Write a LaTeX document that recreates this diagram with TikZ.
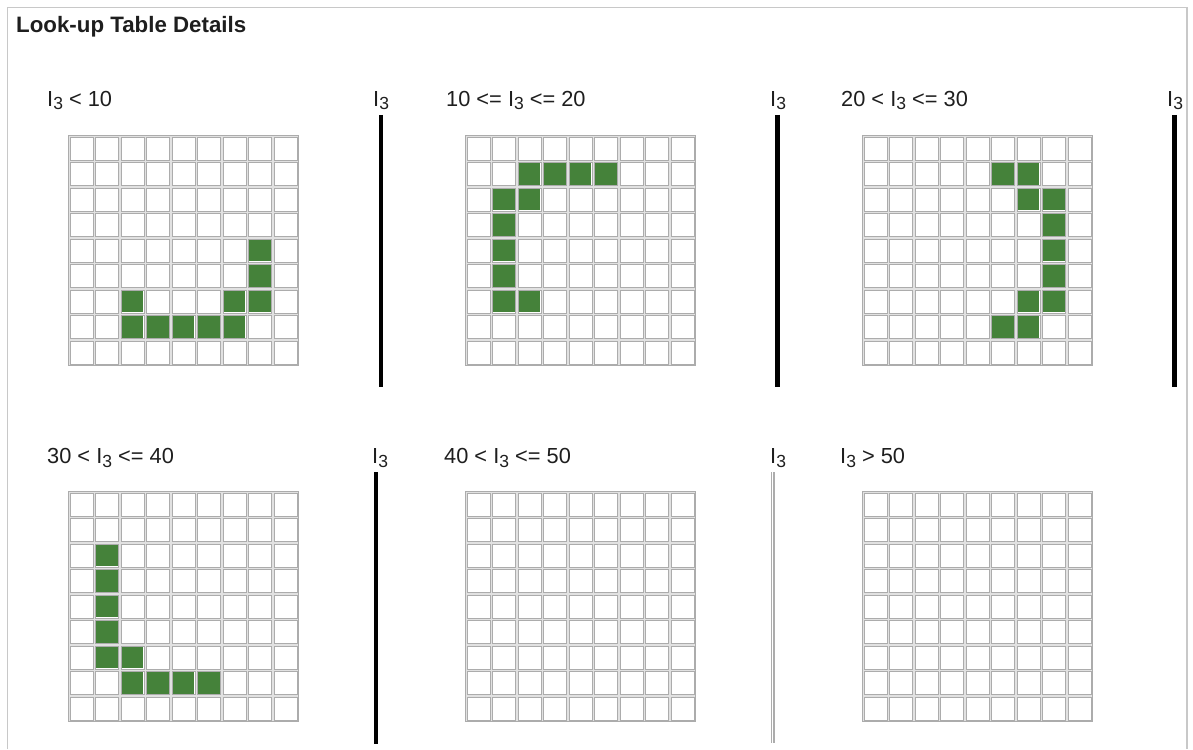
\documentclass[tikz,border=0pt]{standalone}
\usepackage{fontspec}
\setmainfont{Liberation Sans}
\definecolor{lutgreen}{RGB}{69,130,58}
\definecolor{lutgray}{RGB}{172,172,172}
\definecolor{lightgap}{RGB}{225,225,225}
\definecolor{framegray}{RGB}{200,200,200}
\definecolor{txt}{RGB}{30,30,30}
\newcommand\Ith{I\raisebox{-3.5pt}{\fontsize{17.5}{17.5}\selectfont 3}}
\tikzset{
  lbl/.style={anchor=base west, inner sep=0pt, text=txt, font=\fontsize{21.8}{24}\selectfont},
  ttl/.style={anchor=base west, inner sep=0pt, text=txt, font=\fontsize{22.3}{24}\selectfont\bfseries},
  tblborder/.style={draw=lutgray, line width=1pt},
  cellborder/.style={draw=lutgray, line width=1pt},
  bar/.style={draw=black, line width=4.5pt},
  gbar/.style={draw=lutgray, line width=1.2pt},
  frm/.style={draw=framegray, line width=1.2pt},
}
\newcommand\lutgrid[2]{%
  \fill[lightgap] (#1+1,#2+1) rectangle (#1+231,#2+231);
  \draw[tblborder] (#1+1,#2+1) rectangle (#1+231,#2+231);
  \foreach \r in {0,...,8} \foreach \c in {0,...,8}
    \draw[cellborder, fill=white] ({#1+3+25.5*\c},{#2+3+25.5*\r}) rectangle +(23,23);
}
\newcommand\lutfill[3]{%
  \foreach \r/\c in {#3}
    \fill[lutgreen] ({#1+3.6+25.5*\c},{#2+3.6+25.5*\r}) rectangle +(21.8,21.8);
}
\begin{document}
\begin{tikzpicture}[x=1pt,y=-1pt]
\useasboundingbox (0,0) rectangle (1193,749);
\draw[frm] (7.5,749) -- (7.5,7.5) -- (1187,7.5) -- (1187,749);
\node[ttl] (title) at (16,33) {Look-up Table Details};
% row 1 labels
\node[lbl] (l1) at (47,106.5) {\Ith{} < 10};
\node[lbl] (b1) at (373,106.5) {\Ith};
\node[lbl] (l2) at (446,106.5) {10 <= \Ith{} <= 20};
\node[lbl] (b2) at (770,106.5) {\Ith};
\node[lbl] (l3) at (841,106.5) {20 < \Ith{} <= 30};
\node[lbl] (b3) at (1167,106.5) {\Ith};
% row 2 labels
\node[lbl] (l4) at (47,463.5) {30 < \Ith{} <= 40};
\node[lbl] (b4) at (372,463.5) {\Ith};
\node[lbl] (l5) at (444,463.5) {40 < \Ith{} <= 50};
\node[lbl] (b5) at (770,463.5) {\Ith};
\node[lbl] (l6) at (840,463.5) {\Ith{} > 50};
% bars
\draw[bar] (381,115) -- (381,387);
\draw[bar] (777.5,115) -- (777.5,387);
\draw[bar] (1174.5,115) -- (1174.5,387);
\draw[bar] (376,472) -- (376,744);
\draw[gbar] (771.5,472) -- (771.5,743);
\draw[gbar] (774,472) -- (774,743);
% grids
\lutgrid{67}{134}
\lutgrid{464}{134}
\lutgrid{861}{134}
\lutgrid{67}{490}
\lutgrid{464}{490}
\lutgrid{861}{490}
\lutfill{67}{134}{4/7,5/7,6/2,6/6,6/7,7/2,7/3,7/4,7/5,7/6}
\lutfill{464}{134}{1/2,1/3,1/4,1/5,2/1,2/2,3/1,4/1,5/1,6/1,6/2}
\lutfill{861}{134}{1/5,1/6,2/6,2/7,3/7,4/7,5/7,6/6,6/7,7/5,7/6}
\lutfill{67}{490}{2/1,3/1,4/1,5/1,6/1,6/2,7/2,7/3,7/4,7/5}
\end{tikzpicture}
\end{document}
